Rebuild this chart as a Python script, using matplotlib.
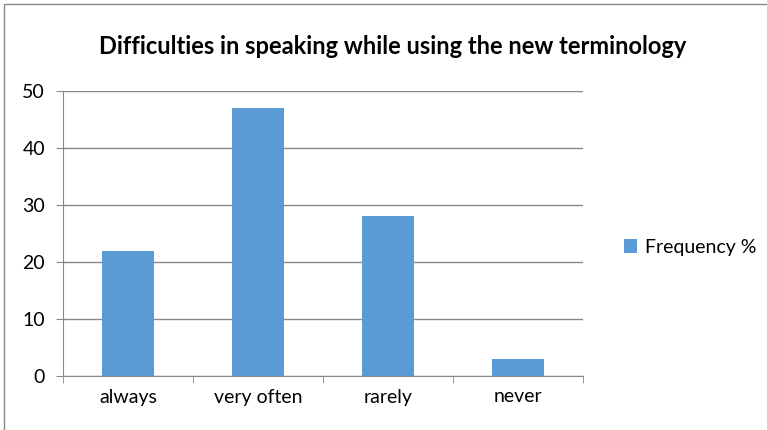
import matplotlib.pyplot as plt
from matplotlib.patches import Rectangle

# data
categories = ['always', 'very often', 'rarely', 'never']
frequency = [22, 47, 28, 3]
series_name = 'Frequency %'

bar_color = '#5B9BD5'
grid_color = '#888888'

plt.rcParams['font.family'] = ['Lato', 'DejaVu Sans']

fig = plt.figure(figsize=(7.67, 4.30), dpi=100)
ax = fig.add_axes([63 / 767, 1 - 376 / 430, 520 / 767, 285 / 430])

# outer chart border (right and bottom edges run off the picture)
fig.patches.append(Rectangle((4 / 767, -0.01), 1.05, 1 - 4 / 430 + 0.01,
                             transform=fig.transFigure, fill=False,
                             edgecolor='#888888', linewidth=1.0))

x = range(len(categories))
ax.bar(x, frequency, width=0.4, color=bar_color, label=series_name, zorder=3)

ax.set_xlim(-0.5, len(categories) - 0.5)
ax.set_ylim(0, 50)
ax.set_yticks(range(0, 51, 10))
ax.yaxis.grid(True, color=grid_color, linewidth=1.0, zorder=0)

ax.set_xticks(list(x))
ax.set_xticklabels(categories, fontsize=14)
ax.set_xticks([i - 0.5 for i in range(len(categories) + 1)], minor=True)
ax.tick_params(axis='x', which='major', length=0, pad=9)
ax.tick_params(axis='x', which='minor', length=5, color=grid_color, direction='out')
ax.tick_params(axis='y', length=5, color=grid_color, labelsize=14, pad=8)

for side in ['top', 'right']:
    ax.spines[side].set_visible(False)
for side in ['left', 'bottom']:
    ax.spines[side].set_color(grid_color)

fig.text(393 / 767, 1 - 46 / 430, 'Difficulties in speaking while using the new terminology',
         ha='center', va='center', fontsize=17, fontweight='bold')

fig.legend(handles=ax.patches[:1], labels=[series_name], loc='center left',
           bbox_to_anchor=(606 / 767, 1 - 247 / 430), frameon=False, fontsize=14,
           handlelength=0.7, handleheight=0.7, handletextpad=0.4)

plt.savefig('out.png', dpi=100)
